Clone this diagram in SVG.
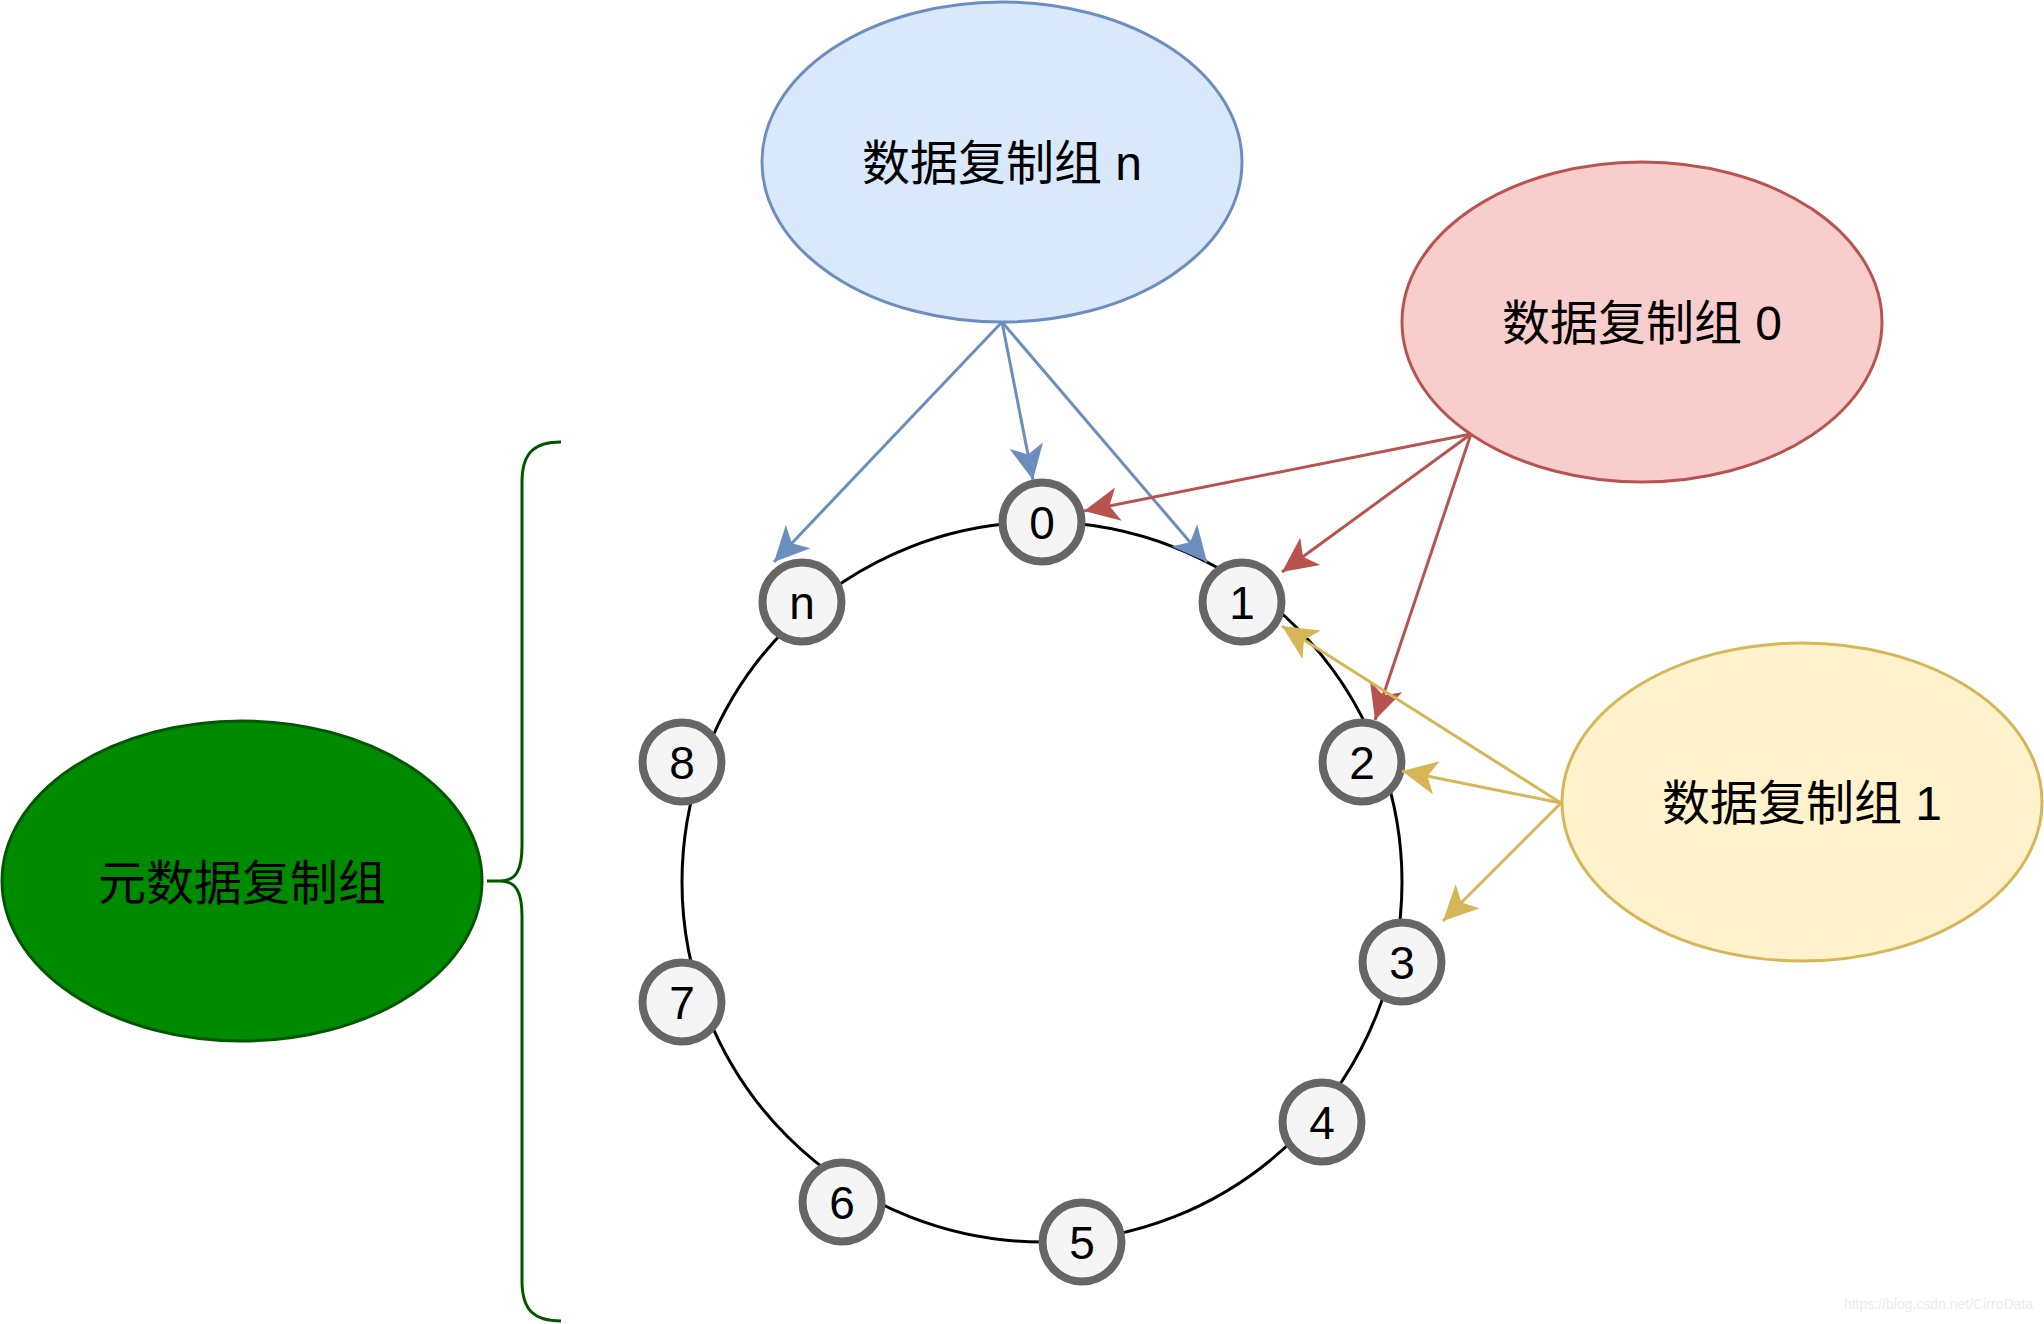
<svg xmlns="http://www.w3.org/2000/svg" width="2044" height="1324" viewBox="0 0 2044 1324">
<style>
.lbl{font-family:"Liberation Sans","Noto Sans CJK SC",sans-serif;font-size:48px;fill:#000;text-anchor:middle}
.num{font-family:"Liberation Sans",Arial,sans-serif;font-size:46px;fill:#000;text-anchor:middle}
.node circle{fill:#f5f5f5;stroke:#666666;stroke-width:8}
.edge{fill:none;stroke-width:3}
.blue{stroke:#6c8ebf}
.red{stroke:#b85450}
.yellow{stroke:#d6b656}
</style>
<defs>
<marker id="aBlue" viewBox="-37 -19 39 38" refX="0" refY="0" markerWidth="39" markerHeight="38" markerUnits="userSpaceOnUse" orient="auto"><path d="M0,0 L-35,-17 L-26,0 L-35,17 Z" fill="#6c8ebf"/></marker>
<marker id="aRed" viewBox="-37 -19 39 38" refX="0" refY="0" markerWidth="39" markerHeight="38" markerUnits="userSpaceOnUse" orient="auto"><path d="M0,0 L-35,-17 L-26,0 L-35,17 Z" fill="#b85450"/></marker>
<marker id="aYellow" viewBox="-37 -19 39 38" refX="0" refY="0" markerWidth="39" markerHeight="38" markerUnits="userSpaceOnUse" orient="auto"><path d="M0,0 L-35,-17 L-26,0 L-35,17 Z" fill="#d6b656"/></marker>
</defs>

<g id="ring"><circle cx="1042" cy="882" r="360" fill="none" stroke="#000" stroke-width="3"/></g>

<g id="group-n"><ellipse cx="1002" cy="162" rx="240" ry="160" fill="#dae8fc" stroke="#6c8ebf" stroke-width="3"/><text class="lbl" x="1002" y="180">数据复制组 n</text></g>
<g id="group-0"><ellipse cx="1642" cy="322" rx="240" ry="160" fill="#f8cecc" stroke="#b85450" stroke-width="3"/><text class="lbl" x="1642" y="340">数据复制组 0</text></g>
<g id="group-1"><ellipse cx="1802" cy="802" rx="240" ry="159" fill="#fff2cc" stroke="#d6b656" stroke-width="3"/><text class="lbl" x="1802" y="820">数据复制组 1</text></g>
<g id="meta-group"><ellipse cx="242" cy="881" rx="240" ry="160" fill="#008a00" stroke="#005700" stroke-width="3"/><text class="lbl" x="242" y="900">元数据复制组</text></g>
<g id="brace"><path d="M561 442 C535 442 522 452 522 482 L522 846 C522 870 516 881 500 881 L487 881 M500 881 C516 881 522 892 522 916 L522 1281 C522 1311 535 1321 561 1321" fill="none" stroke="#005700" stroke-width="3"/></g>

<g id="node-0" class="node"><circle cx="1042" cy="522" r="39.5"/><text class="num" x="1042" y="539">0</text></g>
<g id="node-1" class="node"><circle cx="1242" cy="602" r="39.5"/><text class="num" x="1242" y="619">1</text></g>
<g id="node-2" class="node"><circle cx="1362" cy="762" r="39.5"/><text class="num" x="1362" y="779">2</text></g>
<g id="node-3" class="node"><circle cx="1402" cy="962" r="39.5"/><text class="num" x="1402" y="979">3</text></g>
<g id="node-4" class="node"><circle cx="1322" cy="1122" r="39.5"/><text class="num" x="1322" y="1139">4</text></g>
<g id="node-5" class="node"><circle cx="1082" cy="1242" r="39.5"/><text class="num" x="1082" y="1259">5</text></g>
<g id="node-6" class="node"><circle cx="842" cy="1202" r="39.5"/><text class="num" x="842" y="1219">6</text></g>
<g id="node-7" class="node"><circle cx="682" cy="1002" r="39.5"/><text class="num" x="682" y="1019">7</text></g>
<g id="node-8" class="node"><circle cx="682" cy="762" r="39.5"/><text class="num" x="682" y="779">8</text></g>
<g id="node-n" class="node"><circle cx="802" cy="602" r="39.5"/><text class="num" x="802" y="619">n</text></g>

<g id="connectors">
<path class="edge blue" d="M1002 322 L774 562" marker-end="url(#aBlue)"/>
<path class="edge blue" d="M1002 322 L1033 480" marker-end="url(#aBlue)"/>
<path class="edge blue" d="M1002 322 L1207 562" marker-end="url(#aBlue)"/>
<path class="edge red" d="M1471 434 L1084 511" marker-end="url(#aRed)"/>
<path class="edge red" d="M1471 434 L1282 572" marker-end="url(#aRed)"/>
<path class="edge red" d="M1471 434 L1375 720" marker-end="url(#aRed)"/>
<path class="edge yellow" d="M1561 803 L1282 626" marker-end="url(#aYellow)"/>
<path class="edge yellow" d="M1561 803 L1402 771" marker-end="url(#aYellow)"/>
<path class="edge yellow" d="M1561 803 L1443 921" marker-end="url(#aYellow)"/>
</g>

<text x="2033" y="1309" font-family="Liberation Sans,Arial,sans-serif" font-size="14" fill="#ebebeb" text-anchor="end">https://blog.csdn.net/CirroData</text>
</svg>
